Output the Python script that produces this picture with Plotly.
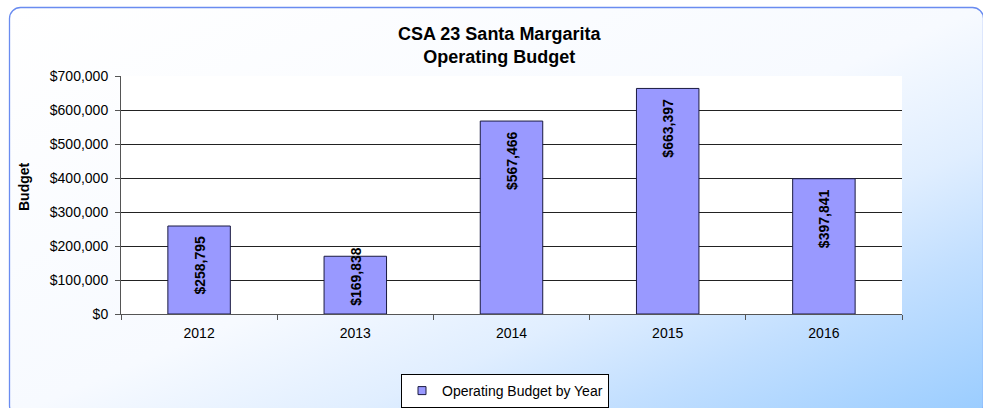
import base64
import plotly.graph_objects as go

years = ["2012", "2013", "2014", "2015", "2016"]
budget = [258795, 169838, 567466, 663397, 397841]
labels = ["$258,795", "$169,838", "$567,466", "$663,397", "$397,841"]
y_ticks = [0, 100000, 200000, 300000, 400000, 500000, 600000, 700000]
y_tick_text = ["$0", "$100,000", "$200,000", "$300,000", "$400,000", "$500,000", "$600,000", "$700,000"]
series_name = "Operating Budget by Year"

W, H = 983, 408
ML, MR, MT, MB = 121, 81, 76, 94
PW, PH = W - ML - MR, H - MT - MB
YMAX = 700000

FONT = "Liberation Sans, Arial, sans-serif"

svg = f"""<svg xmlns='http://www.w3.org/2000/svg' width='{W}' height='{H}' viewBox='0 0 {W} {H}' preserveAspectRatio='none'>
<defs><linearGradient id='g' x1='0' y1='0' x2='1' y2='1'>
<stop offset='0' stop-color='#FFFFFF'/>
<stop offset='0.5' stop-color='#F7FAFF'/>
<stop offset='0.67' stop-color='#E0EEFF'/>
<stop offset='0.8' stop-color='#C2DFFF'/>
<stop offset='1' stop-color='#99CCFF'/>
</linearGradient></defs>
<rect x='9.5' y='7.5' width='974' height='409' rx='11' ry='11' fill='url(#g)' stroke='#6A8CF0' stroke-width='1.3'/>
</svg>"""
src = "data:image/svg+xml;base64," + base64.b64encode(svg.encode()).decode()

fig = go.Figure()
fig.add_trace(go.Bar(
    x=years, y=budget, showlegend=False,
    marker=dict(color="#9999FF", line=dict(color="#1A1A40", width=1)),
    hoverinfo="skip",
))
# legend proxy (kept off-range so only its legend entry shows)
fig.add_trace(go.Scatter(
    x=[years[0]], y=[-YMAX], mode="markers", name=series_name, hoverinfo="skip",
    marker=dict(symbol="square", size=8, color="#9999FF", line=dict(color="#1A1A40", width=1)),
))

label_px = 59  # approximate rotated label length in px
annotations = []
for i, (v, lab) in enumerate(zip(budget, labels)):
    bar_px = v / YMAX * PH
    if bar_px - 10 >= label_px + 7:
        annotations.append(dict(x=i, y=v, xref="x", yref="y", text=f"<b>{lab}</b>",
                                textangle=-90, showarrow=False, yanchor="top", yshift=-8,
                                font=dict(family=FONT, size=14, color="#000")))
    else:
        annotations.append(dict(x=i, y=0, xref="x", yref="y", text=f"<b>{lab}</b>",
                                textangle=-90, showarrow=False, yanchor="bottom", yshift=6,
                                font=dict(family=FONT, size=14, color="#000")))

annotations.append(dict(x=(499 - ML) / PW, y=(H - MB - 45) / PH, xref="paper", yref="paper",
                        text="<b>CSA 23 Santa Margarita<br>Operating Budget</b>", showarrow=False,
                        xanchor="center", yanchor="middle", align="center",
                        font=dict(family=FONT, size=18, color="#000")))
annotations.append(dict(x=(24 - ML) / PW, y=(H - MB - 187) / PH, xref="paper", yref="paper",
                        text="<b>Budget</b>", textangle=-90, showarrow=False,
                        xanchor="center", yanchor="middle",
                        font=dict(family=FONT, size=14, color="#000")))

fig.update_layout(
    width=W, height=H,
    margin=dict(l=ML, r=MR, t=MT, b=MB, autoexpand=False),
    paper_bgcolor="white",
    plot_bgcolor="rgba(0,0,0,0)",
    bargap=0.6,
    font=dict(family=FONT, size=14, color="#000"),
    images=[dict(source=src, xref="paper", yref="paper",
                 x=-ML / PW, y=(H - MB) / PH, sizex=W / PW, sizey=H / PH,
                 xanchor="left", yanchor="top", sizing="stretch", layer="below")],
    shapes=[dict(type="rect", xref="paper", yref="paper", x0=0, x1=1, y0=0, y1=1,
                 fillcolor="white", line=dict(width=0), layer="below")],
    annotations=annotations,
    showlegend=True,
    legend=dict(x=(505 - ML) / PW, y=(H - MB - 374) / PH, xanchor="center", yanchor="top",
                bgcolor="white", bordercolor="#000", borderwidth=1,
                font=dict(family=FONT, size=14, color="#000"),
                itemwidth=30, tracegroupgap=0),
    xaxis=dict(type="category", categoryorder="array", categoryarray=years,
               range=[-0.5, len(years) - 0.5],
               showline=True, linecolor="#555", linewidth=1,
               ticks="outside", tickson="boundaries", ticklen=5, tickcolor="#555",
               showgrid=False, zeroline=False, ticklabelstandoff=6,
               tickfont=dict(family=FONT, size=14, color="#000")),
    yaxis=dict(range=[0, YMAX], tickmode="array", tickvals=y_ticks, ticktext=y_tick_text,
               showline=True, linecolor="#555", linewidth=1,
               ticks="outside", ticklen=5, tickcolor="#555",
               showgrid=True, gridcolor="#222", gridwidth=1, zeroline=False,
               ticklabelstandoff=4,
               tickfont=dict(family=FONT, size=14, color="#000")),
)

fig.write_html("out.html", post_script="document.body.style.margin='0';",
               config={"displayModeBar": False})
